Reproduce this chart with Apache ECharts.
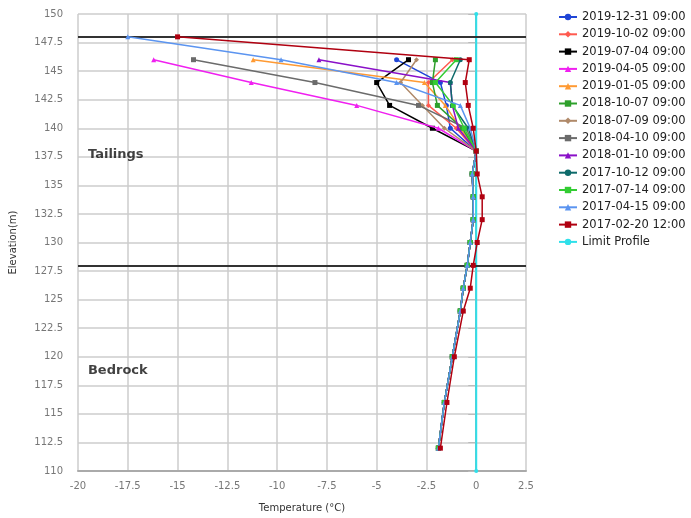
<!DOCTYPE html>
<html>
<head>
<meta charset="utf-8">
<script src="https://cdn.jsdelivr.net/npm/echarts@6/dist/echarts.min.js"></script>
<style>
  html, body { margin: 0; padding: 0; background: #fff; }
  #chart { width: 691px; height: 518px; }
</style>
</head>
<body>
<div id="chart"></div>
<script>
  // elevations (m) where each profile was sampled
  const topElev = [148, 146, 144, 142, 140]
  const lowElev = [138, 136, 134, 132, 130, 128, 126, 124, 120, 116, 112]

  const seriesNames = [
    '2019-12-31 09:00', '2019-10-02 09:00', '2019-07-04 09:00', '2019-04-05 09:00',
    '2019-01-05 09:00', '2018-10-07 09:00', '2018-07-09 09:00', '2018-04-10 09:00',
    '2018-01-10 09:00', '2017-10-12 09:00', '2017-07-14 09:00', '2017-04-15 09:00',
    '2017-02-20 12:00'
  ]
  const colors = [
    '#1f45d6', '#ff5a4f', '#000000', '#f020f0', '#ff9a33', '#2ea02c', '#b08a6a',
    '#6b6b6b', '#8a10c8', '#0e6b6b', '#33cc33', '#5b94f0', '#b00010'
  ]
  const symbols = [
    'circle', 'diamond', 'rect', 'triangle', 'triangle', 'rect', 'diamond',
    'rect', 'triangle', 'circle', 'rect', 'triangle', 'rect'
  ]

  // temperatures at topElev (null = not measured at 148)
  const topTemps = [
    [null, -4.0, -1.8, -1.5, -1.3],
    [null, -1.2, -2.4, -2.4, -1.0],
    [null, -3.4, -5.0, -4.35, -2.2],
    [null, -16.2, -11.3, -6.0, -1.9],
    [null, -11.2, -2.6, -1.55, -0.8],
    [null, -2.05, -2.2, -1.95, -0.7],
    [null, -3.0, -3.8, -2.7, -1.6],
    [null, -14.2, -8.1, -2.9, -0.5],
    [null, -7.9, -1.3, -1.2, -0.9],
    [null, -0.8, -1.3, -1.2, -0.4],
    [null, -1.0, -2.05, -1.15, -0.6],
    [-17.5, -9.8, -4.0, -0.8, -0.3],
    [-15.0, -0.35, -0.55, -0.4, -0.15]
  ]
  // temperatures at lowElev
  const lowCommon = [0.0, -0.2, -0.15, -0.15, -0.3, -0.45, -0.65, -0.8, -1.2, -1.6, -1.9]
  const lowRed = [0.0, 0.05, 0.3, 0.3, 0.05, -0.15, -0.3, -0.65, -1.1, -1.47, -1.8]

  const limitTemp = [0, 0]
  const limitElev = [110, 150]
  const boundaries = [148, 128]
  const zones = [
    { name: 'Tailings', x: -19.5, y: 137.7 },
    { name: 'Bedrock', x: -19.5, y: 118.8 }
  ]

  const series = seriesNames.map((name, i) => {
    const data = []
    topElev.forEach((e, j) => {
      if (topTemps[i][j] !== null) data.push([topTemps[i][j], e])
    })
    const low = i === 12 ? lowRed : lowCommon
    lowElev.forEach((e, j) => data.push([low[j], e]))
    return {
      name: name,
      type: 'line',
      data: data,
      color: colors[i],
      symbol: symbols[i],
      symbolSize: 5,
      showAllSymbol: true,
      lineStyle: { width: 1.5 },
      z: 3 + i
    }
  })

  series.push({
    name: 'Limit Profile',
    type: 'line',
    data: limitElev.map((e, j) => [limitTemp[j], e]),
    color: '#2fe0ea',
    symbol: 'circle',
    symbolSize: 4,
    lineStyle: { width: 2 },
    z: 2,
    markLine: {
      silent: true,
      symbol: 'none',
      label: { show: false },
      lineStyle: { color: '#333', width: 2, type: 'solid' },
      data: boundaries.map((b) => ({ yAxis: b }))
    }
  })

  series.push({
    type: 'scatter',
    data: zones.map((z) => ({ name: z.name, value: [z.x, z.y] })),
    symbolSize: 0,
    silent: true,
    label: {
      show: true,
      position: 'right',
      distance: 0,
      formatter: '{b}',
      color: '#111',
      fontWeight: 'bold',
      fontSize: 13,
      fontFamily: 'DejaVu Sans'
    }
  })

  const chart = echarts.init(document.getElementById('chart'))
  chart.setOption({
    animation: false,
    textStyle: { fontFamily: 'DejaVu Sans' },
    grid: { left: 77, right: 165, top: 14, bottom: 46 },
    legend: {
      orient: 'vertical',
      left: 553,
      top: 6,
      itemWidth: 18,
      itemHeight: 8,
      itemGap: 5.3,
      data: seriesNames.concat(['Limit Profile']),
      textStyle: { fontSize: 11.5, color: '#222' }
    },
    xAxis: {
      type: 'value',
      min: -20,
      max: 2.5,
      interval: 2.5,
      name: 'Temperature (°C)',
      nameLocation: 'middle',
      nameGap: 32,
      nameTextStyle: { fontSize: 10, color: '#333' },
      axisLine: { lineStyle: { color: '#aaa', width: 2 } },
      axisTick: { show: false },
      axisLabel: { fontSize: 10, color: '#777', margin: 10 },
      splitLine: { lineStyle: { color: '#ccc', width: 1.5 } }
    },
    yAxis: {
      type: 'value',
      min: 110,
      max: 150,
      interval: 2.5,
      name: 'Elevation(m)',
      nameLocation: 'middle',
      nameGap: 60,
      nameTextStyle: { fontSize: 10, color: '#333' },
      axisLine: { show: true, lineStyle: { color: '#aaa', width: 2 } },
      axisTick: { show: true, inside: false, length: 8, lineStyle: { color: '#bbb' } },
      axisLabel: { fontSize: 10, color: '#777', margin: 15 },
      splitLine: { lineStyle: { color: '#ccc', width: 1.5 } }
    },
    series: series
  })
</script>
</body>
</html>
